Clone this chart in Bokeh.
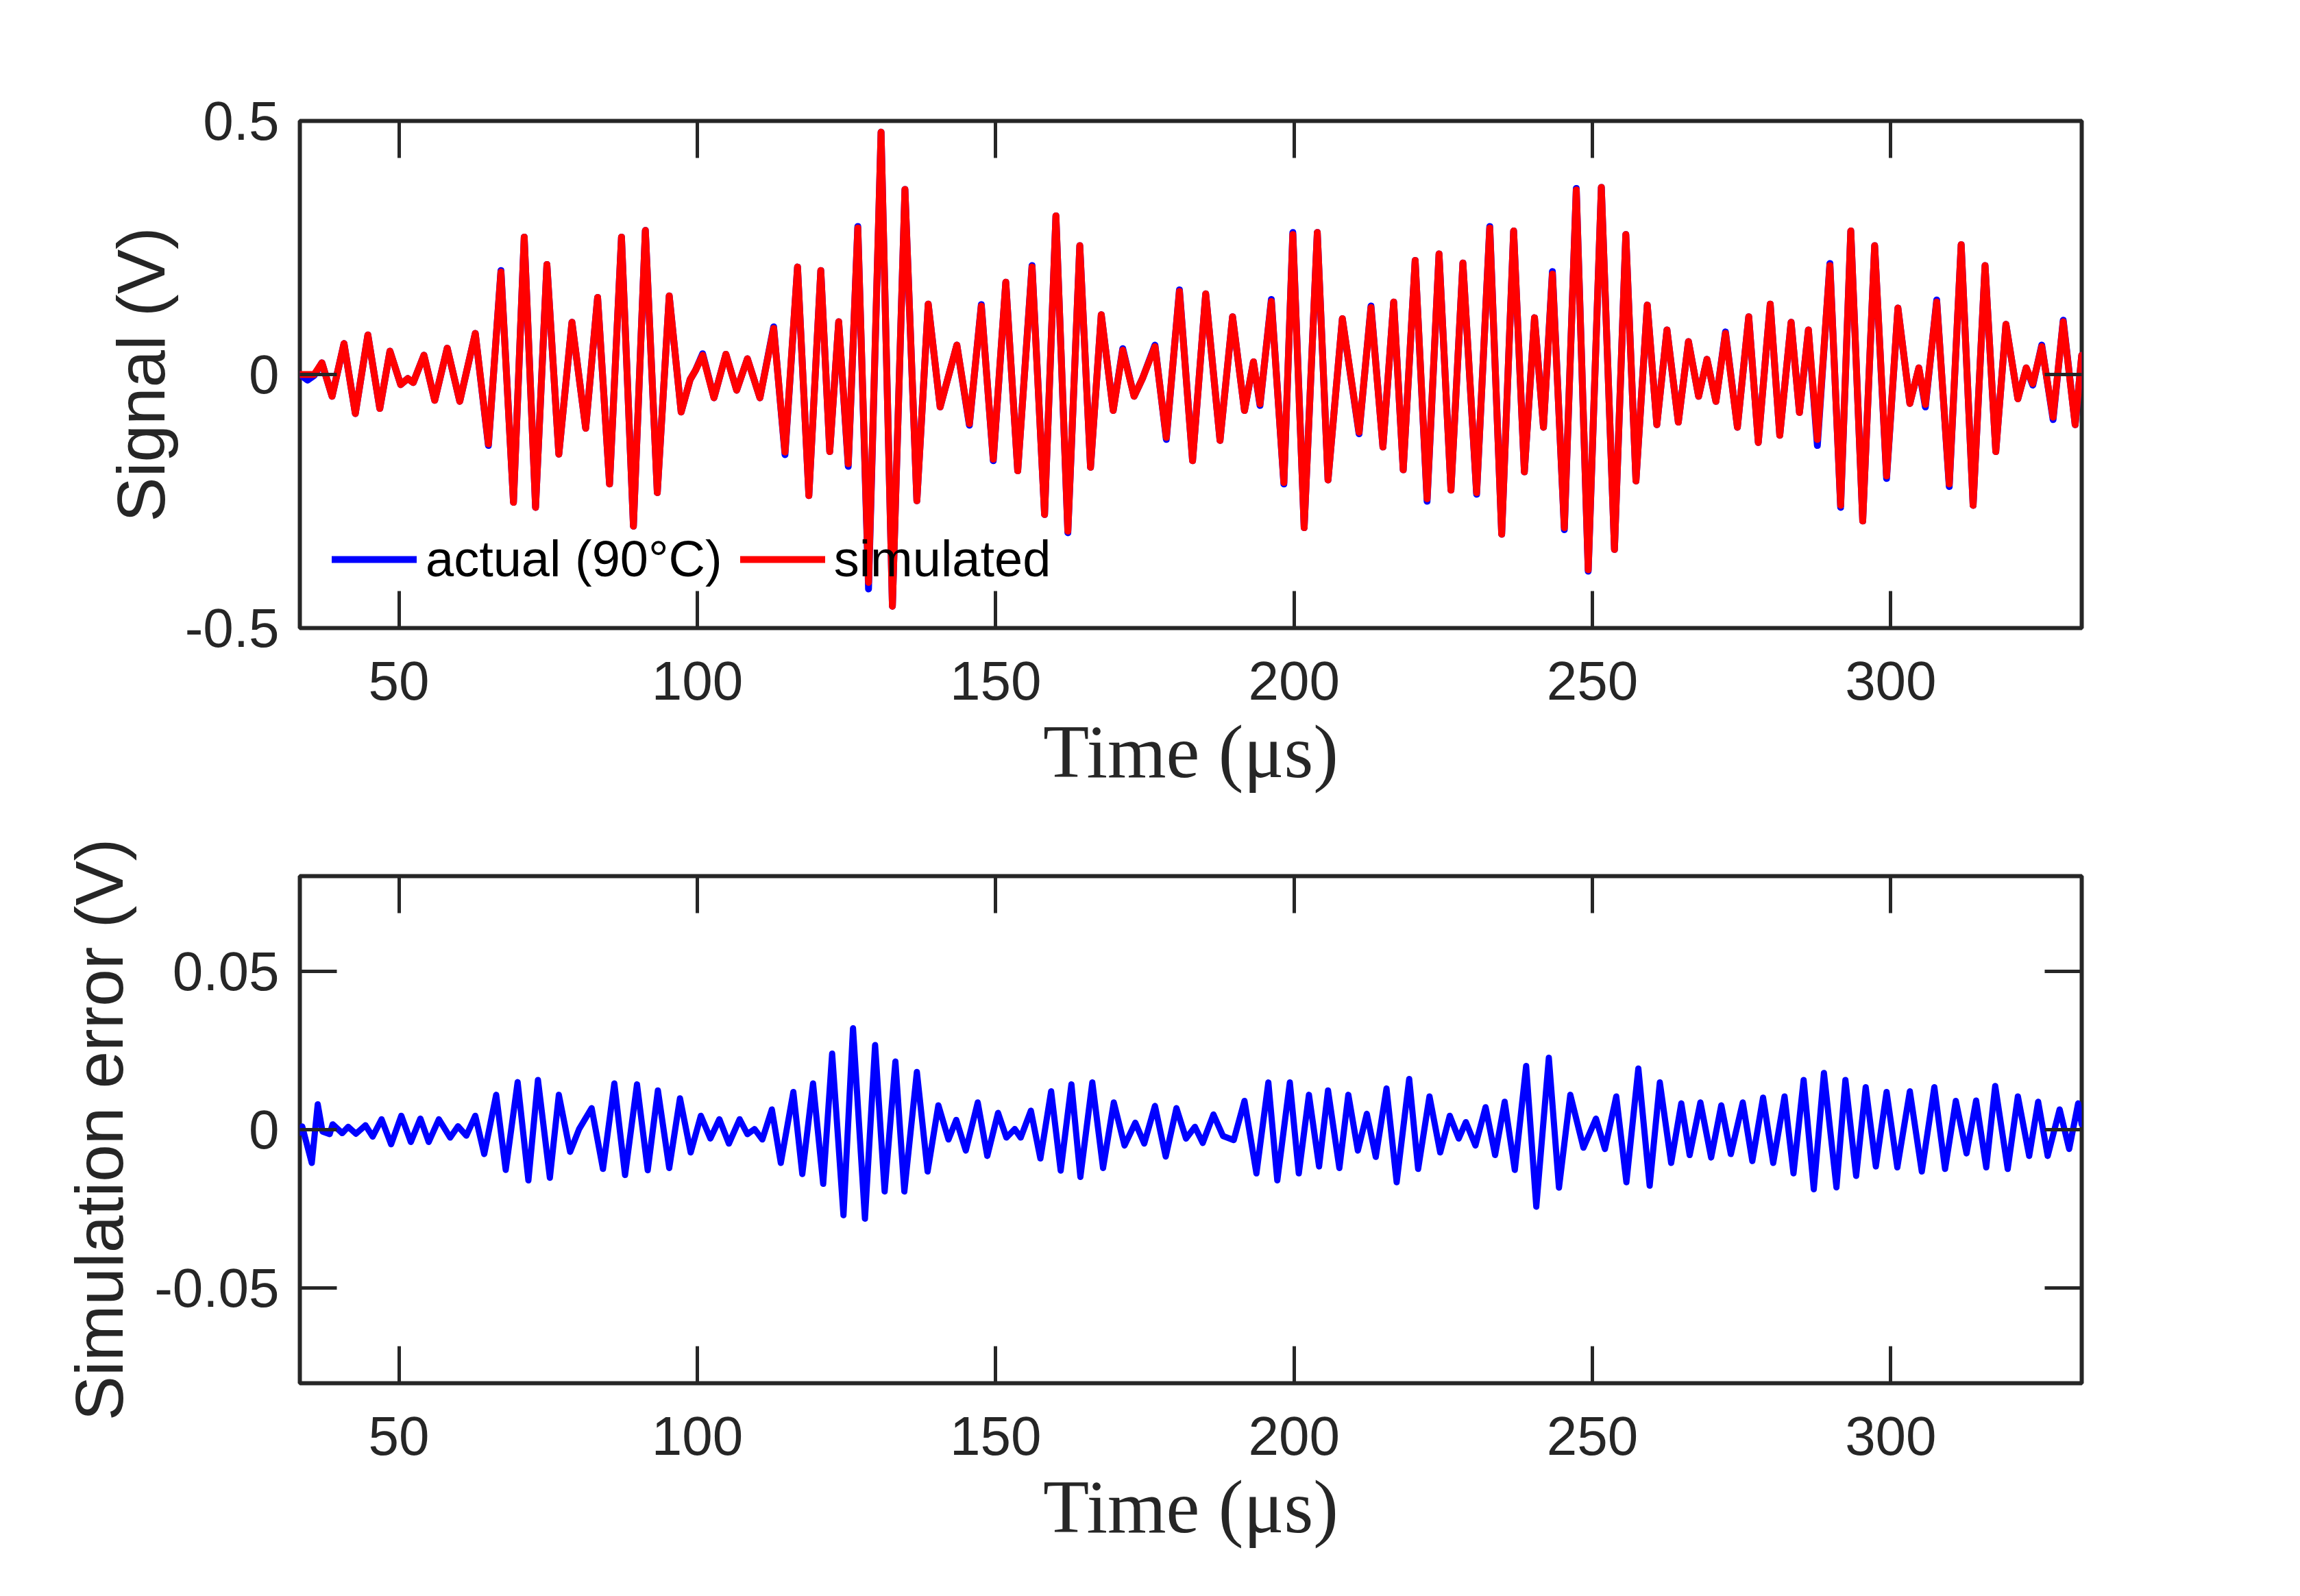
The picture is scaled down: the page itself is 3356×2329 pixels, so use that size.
from bokeh.plotting import figure
from bokeh.models import (Range1d, FixedTicker, LinearAxis, CustomJSTickFormatter,
                          Legend, LegendItem)
from bokeh.layouts import column
from bokeh.embed import file_html
from bokeh.resources import INLINE

# ---------------- data ----------------
x_ticks = [50, 100, 150, 200, 250, 300]
signal_ticks = [-0.5, 0, 0.5]
error_ticks = [-0.05, 0, 0.05]

t_signal = [
    33.4, 34.7, 35.8, 37.1, 38.8, 40.8, 42.7, 44.8, 46.8, 48.5,
    50.3, 51.5, 52.4, 54.2, 56.0, 58.1, 60.2, 62.8, 65.0, 67.1,
    69.2, 71.0, 72.9, 74.8, 76.8, 79.0, 81.3, 83.3, 85.3, 87.3,
    89.3, 91.3, 93.3, 95.3, 97.3, 98.8, 99.7, 100.9, 102.8, 104.8,
    106.6, 108.4, 110.5, 112.8, 114.7, 116.8, 118.7, 120.7, 122.2, 123.7,
    125.3, 126.9, 128.7, 130.8, 132.7, 134.8, 136.8, 138.7, 140.7, 143.5,
    145.6, 147.6, 149.6, 151.7, 153.7, 156.1, 158.2, 160.1, 162.1, 164.1,
    165.9, 167.7, 169.7, 171.3, 173.2, 174.6, 176.7, 178.6, 180.8, 183.0,
    185.2, 187.6, 189.7, 191.7, 193.2, 194.3, 196.2, 198.3, 199.8, 201.7,
    203.9, 205.7, 208.1, 210.9, 212.9, 214.9, 216.7, 218.3, 220.3, 222.3,
    224.3, 226.3, 228.3, 230.6, 232.8, 234.8, 236.8, 238.6, 240.3, 241.8,
    243.3, 245.3, 247.3, 249.3, 251.5, 253.7, 255.6, 257.3, 259.2, 260.8,
    262.5, 264.4, 266.1, 267.8, 269.2, 270.7, 272.3, 274.3, 276.2, 277.8,
    279.8, 281.4, 283.3, 284.7, 286.2, 287.7, 289.8, 291.6, 293.3, 295.3,
    297.3, 299.3, 301.2, 303.2, 304.7, 305.8, 307.7, 309.8, 311.8, 313.8,
    315.8, 317.6, 319.3, 321.3, 322.7, 323.8, 325.3, 327.2, 328.9, 330.9,
    332.0,
]

signal_simulated = [
    0.0, 0.0, 0.0, 0.023, -0.043, 0.061, -0.077, 0.078, -0.067, 0.046,
    -0.020, -0.008, -0.016, 0.038, -0.051, 0.052, -0.053, 0.081, -0.137, 0.202,
    -0.252, 0.271, -0.262, 0.217, -0.157, 0.103, -0.106, 0.152, -0.216, 0.271,
    -0.299, 0.284, -0.233, 0.155, -0.074, -0.010, 0.008, 0.038, -0.046, 0.040,
    -0.031, 0.031, -0.046, 0.091, -0.153, 0.212, -0.239, 0.205, -0.152, 0.104,
    -0.176, 0.289, -0.410, 0.478, -0.457, 0.365, -0.249, 0.139, -0.064, 0.058,
    -0.097, 0.135, -0.167, 0.182, -0.190, 0.212, -0.276, 0.313, -0.309, 0.254,
    -0.183, 0.118, -0.071, 0.048, -0.043, -0.008, 0.055, -0.124, 0.164, -0.170,
    0.159, -0.130, 0.114, -0.071, 0.025, -0.058, 0.144, -0.213, 0.276, -0.302,
    0.280, -0.208, 0.110, -0.114, 0.132, -0.143, 0.143, -0.188, 0.225, -0.245,
    0.238, -0.228, 0.220, -0.233, 0.289, -0.315, 0.283, -0.192, 0.112, -0.104,
    0.198, -0.302, 0.364, -0.385, 0.369, -0.345, 0.276, -0.210, 0.137, -0.099,
    0.088, -0.094, 0.065, -0.043, 0.030, -0.053, 0.081, -0.104, 0.114, -0.134,
    0.139, -0.120, 0.103, -0.075, 0.088, -0.128, 0.215, -0.258, 0.283, -0.289,
    0.254, -0.200, 0.131, -0.057, 0.013, -0.059, 0.143, -0.216, 0.256, -0.258,
    0.215, -0.152, 0.099, -0.048, 0.013, -0.018, 0.055, -0.084, 0.104, -0.099,
    0.038,
]

signal_actual = [
    0.0, -0.011, -0.002, 0.023, -0.043, 0.061, -0.077, 0.078, -0.067, 0.046,
    -0.020, -0.008, -0.016, 0.038, -0.051, 0.052, -0.053, 0.081, -0.140, 0.205,
    -0.252, 0.271, -0.262, 0.217, -0.157, 0.103, -0.106, 0.152, -0.216, 0.271,
    -0.299, 0.284, -0.233, 0.155, -0.074, -0.010, 0.008, 0.041, -0.046, 0.040,
    -0.031, 0.031, -0.046, 0.094, -0.158, 0.212, -0.239, 0.205, -0.152, 0.104,
    -0.181, 0.292, -0.423, 0.478, -0.457, 0.365, -0.249, 0.139, -0.064, 0.058,
    -0.100, 0.138, -0.170, 0.182, -0.190, 0.215, -0.276, 0.313, -0.312, 0.254,
    -0.183, 0.118, -0.071, 0.051, -0.043, -0.008, 0.058, -0.128, 0.167, -0.170,
    0.159, -0.130, 0.114, -0.071, 0.025, -0.061, 0.148, -0.216, 0.280, -0.302,
    0.280, -0.208, 0.110, -0.117, 0.135, -0.143, 0.143, -0.188, 0.225, -0.250,
    0.238, -0.228, 0.220, -0.236, 0.292, -0.315, 0.283, -0.192, 0.112, -0.104,
    0.203, -0.306, 0.367, -0.388, 0.369, -0.345, 0.276, -0.210, 0.137, -0.099,
    0.088, -0.094, 0.065, -0.043, 0.030, -0.053, 0.084, -0.104, 0.114, -0.134,
    0.139, -0.120, 0.103, -0.075, 0.088, -0.140, 0.219, -0.262, 0.283, -0.289,
    0.254, -0.205, 0.131, -0.057, 0.013, -0.064, 0.147, -0.221, 0.256, -0.258,
    0.215, -0.152, 0.099, -0.048, 0.013, -0.021, 0.058, -0.089, 0.107, -0.099,
    0.038,
]

t_error = [
    33.3, 33.8, 35.4, 36.4, 37.2, 38.4, 38.9, 40.5, 41.5, 42.8,
    44.4, 45.6, 47.1, 48.7, 50.4, 52.0, 53.6, 55.0, 56.7, 58.6,
    59.9, 61.3, 62.8, 64.3, 66.3, 67.9, 69.9, 71.7, 73.3, 75.3,
    76.8, 78.7, 80.2, 82.3, 84.2, 86.1, 87.9, 89.9, 91.7, 93.4,
    95.3, 97.1, 98.9, 100.6, 102.2, 103.7, 105.3, 107.1, 108.4, 109.6,
    110.9, 112.5, 114.0, 116.1, 117.6, 119.4, 121.1, 122.6, 124.5, 126.1,
    128.1, 129.8, 131.4, 133.2, 134.7, 136.8, 138.6, 140.4, 142.1, 143.4,
    145.0, 147.0, 148.6, 150.4, 151.8, 153.2, 154.2, 155.9, 157.5, 159.3,
    160.9, 162.7, 164.2, 166.2, 168.0, 169.8, 171.6, 173.4, 174.9, 176.7,
    178.5, 180.3, 181.9, 183.4, 184.7, 186.5, 188.1, 189.9, 191.7, 193.7,
    195.7, 197.2, 199.3, 200.8, 202.5, 204.2, 205.7, 207.6, 209.1, 210.7,
    212.2, 213.7, 215.5, 217.2, 219.3, 220.8, 222.7, 224.5, 226.1, 227.6,
    228.8, 230.4, 232.1, 233.7, 235.3, 237.0, 238.9, 240.6, 242.7, 244.4,
    246.3, 248.5, 250.6, 252.1, 254.0, 255.7, 257.7, 259.6, 261.3, 263.2,
    264.9, 266.3, 268.1, 269.9, 271.6, 273.2, 275.2, 276.8, 278.6, 280.3,
    282.2, 283.7, 285.4, 287.1, 288.8, 290.9, 292.4, 294.2, 295.8, 297.5,
    299.3, 301.1, 303.2, 305.2, 307.3, 309.1, 310.9, 312.7, 314.3, 316.0,
    317.5, 319.6, 321.3, 323.2, 324.7, 326.3, 328.3, 329.9, 331.4, 332.0,
]

error_values = [
    -0.0010, 0.0010, -0.0105, 0.0080, -0.0006, -0.0014, 0.0017, -0.0011, 0.0009, -0.0013,
    0.0014, -0.0022, 0.0033, -0.0046, 0.0044, -0.0039, 0.0035, -0.0039, 0.0033, -0.0025,
    0.0011, -0.0019, 0.0044, -0.0077, 0.0110, -0.0127, 0.0150, -0.0160, 0.0157, -0.0152,
    0.0110, -0.0070, 0.0002, 0.0068, -0.0124, 0.0146, -0.0143, 0.0143, -0.0128, 0.0124,
    -0.0121, 0.0099, -0.0072, 0.0044, -0.0028, 0.0033, -0.0044, 0.0033, -0.0014, 0.0002,
    -0.0031, 0.0064, -0.0105, 0.0119, -0.0140, 0.0146, -0.0171, 0.0240, -0.0270, 0.0320,
    -0.0281, 0.0267, -0.0195, 0.0215, -0.0195, 0.0182, -0.0132, 0.0077, -0.0031, 0.0031,
    -0.0066, 0.0086, -0.0083, 0.0053, -0.0025, 0.0002, -0.0025, 0.0060, -0.0091, 0.0121,
    -0.0129, 0.0143, -0.0149, 0.0149, -0.0121, 0.0086, -0.0050, 0.0022, -0.0044, 0.0075,
    -0.0085, 0.0068, -0.0028, 0.0009, -0.0042, 0.0048, -0.0020, -0.0033, 0.0091, -0.0138,
    0.0149, -0.0160, 0.0149, -0.0138, 0.0110, -0.0116, 0.0124, -0.0121, 0.0110, -0.0066,
    0.0050, -0.0086, 0.0130, -0.0166, 0.0160, -0.0124, 0.0105, -0.0072, 0.0044, -0.0028,
    0.0024, -0.0050, 0.0071, -0.0080, 0.0088, -0.0127, 0.0201, -0.0243, 0.0227, -0.0183,
    0.0110, -0.0057, 0.0035, -0.0061, 0.0105, -0.0166, 0.0193, -0.0177, 0.0149, -0.0105,
    0.0083, -0.0080, 0.0086, -0.0088, 0.0077, -0.0077, 0.0086, -0.0099, 0.0101, -0.0105,
    0.0105, -0.0138, 0.0157, -0.0188, 0.0179, -0.0182, 0.0157, -0.0146, 0.0134, -0.0116,
    0.0119, -0.0119, 0.0121, -0.0132, 0.0134, -0.0124, 0.0091, -0.0075, 0.0092, -0.0119,
    0.0138, -0.0124, 0.0105, -0.0083, 0.0088, -0.0083, 0.0064, -0.0061, 0.0083, 0.0017,
]

x_label = "Time (μs)"
signal_label = "Signal (V)"
error_label = "Simulation error (V)"
legend_actual = "actual (90°C)"
legend_simulated = "simulated"

# ---------------- styling ----------------
AX = "#262626"
SANS = "Liberation Sans"
SERIF = "Liberation Serif"
X_MIN, X_MAX = 33.4, 332.0

blank = "return '';"
yfmt = "return tick == 0 ? '0' : String(tick);"


def style_axis(ax):
    ax.axis_line_color = None
    ax.major_tick_in = 54
    ax.major_tick_out = 0
    ax.major_tick_line_width = 5
    ax.major_tick_line_color = AX
    ax.minor_tick_line_color = None
    ax.major_label_text_font = SANS
    ax.major_label_text_font_size = "80px"
    ax.major_label_text_color = AX


def make_fig(height, top, y_lo, y_hi, yticks, ylabel, ystand):
    p = figure(width=3137, height=height, output_backend="svg",
               toolbar_location=None,
               x_range=Range1d(X_MIN, X_MAX), y_range=Range1d(y_lo, y_hi),
               min_border_left=437, min_border_right=100,
               min_border_top=top, min_border_bottom=250,
               background_fill_color="white", border_fill_color="white")
    p.xgrid.visible = False
    p.ygrid.visible = False
    p.outline_line_color = AX
    p.outline_line_width = 6
    p.outline_line_alpha = 1.0

    p.xaxis.ticker = FixedTicker(ticks=x_ticks)
    p.yaxis.ticker = FixedTicker(ticks=yticks)
    p.yaxis.formatter = CustomJSTickFormatter(code=yfmt)
    for ax in list(p.xaxis) + list(p.yaxis):
        style_axis(ax)
    p.xaxis.major_label_standoff = 49
    p.yaxis.major_label_standoff = 30

    p.xaxis.axis_label = x_label
    p.xaxis.axis_label_text_font = SERIF
    p.xaxis.axis_label_text_font_size = "110px"
    p.xaxis.axis_label_text_font_style = "normal"
    p.xaxis.axis_label_text_color = AX
    p.xaxis.axis_label_standoff = 12

    p.yaxis.axis_label = ylabel
    p.yaxis.axis_label_text_font = SANS
    p.yaxis.axis_label_text_font_size = "98px"
    p.yaxis.axis_label_text_font_style = "normal"
    p.yaxis.axis_label_text_color = AX
    p.yaxis.axis_label_standoff = ystand

    top_ax = LinearAxis(ticker=FixedTicker(ticks=x_ticks),
                        formatter=CustomJSTickFormatter(code=blank))
    right_ax = LinearAxis(ticker=FixedTicker(ticks=yticks),
                          formatter=CustomJSTickFormatter(code=blank))
    for ax in (top_ax, right_ax):
        style_axis(ax)
        ax.major_label_standoff = 0
    p.add_layout(top_ax, "above")
    p.add_layout(right_ax, "right")
    return p


p1 = make_fig(1166, 176, -0.5, 0.5, signal_ticks, signal_label, 6)
r_act = p1.line(t_signal, signal_actual, line_color="#0000FF", line_width=10,
                line_join="round", line_cap="round")
r_sim = p1.line(t_signal, signal_simulated, line_color="#FF0000", line_width=10,
                line_join="round", line_cap="round")

legend = Legend(items=[LegendItem(label=legend_actual, renderers=[r_act]),
                       LegendItem(label=legend_simulated, renderers=[r_sim])],
                location=(47, 58), orientation="horizontal",
                border_line_color=None, background_fill_alpha=0.0,
                padding=0, margin=0, spacing=26, label_standoff=13,
                glyph_width=124, glyph_height=20,
                label_text_font=SANS, label_text_font_size="74px",
                label_text_color="black")
p1.add_layout(legend)

p2 = make_fig(1102, 112, -0.08, 0.08, error_ticks, error_label, 22)
p2.line(t_error, error_values, line_color="#0000FF", line_width=9,
        line_join="round", line_cap="round")

layout = column(p1, p2)
open("out.html", "w").write(file_html(layout, INLINE))
